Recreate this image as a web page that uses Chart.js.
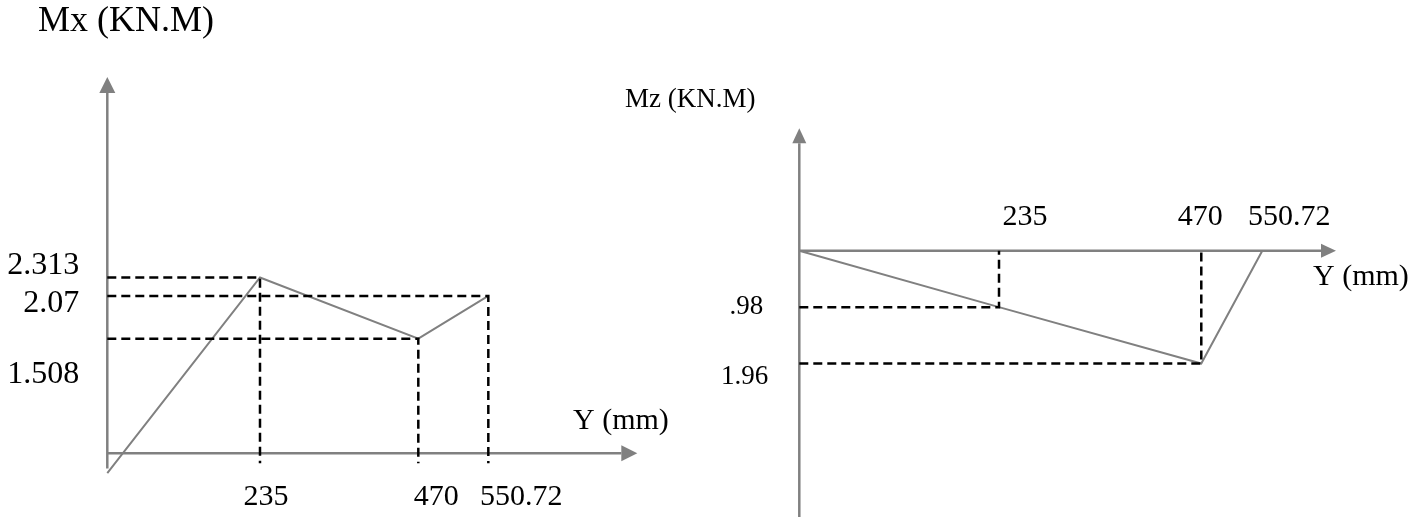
<!DOCTYPE html>
<html>
<head>
<meta charset="utf-8">
<script src="https://cdn.jsdelivr.net/npm/chart.js@4.4.1/dist/chart.umd.min.js"></script>
<style>
  html, body { margin: 0; padding: 0; background: #fff; overflow: hidden; }
  #wrap { position: relative; width: 1425px; height: 517px; }
  #wrap canvas { position: absolute; left: 0; top: 0; }
</style>
</head>
<body>
<div id="wrap">
  <canvas id="mxChart" width="1425" height="517"></canvas>
  <canvas id="mzChart" width="1425" height="517"></canvas>
</div>
<script>
// Positions along the member (mm)
const yPositions = [0, 235, 470, 550.72];
// Bending moment Mx (kN.m) at those positions
const mxValues = [-0.26, 2.313, 1.508, 2.07];
// Bending moment Mz (kN.m) at those positions
const mzValues = [0, -0.98, -1.96, 0];

// Labels written along the axes
const yTickLabels = ['235', '470', '550.72'];
const mxTickLabels = ['2.313', '2.07', '1.508'];
const mzTickLabels = ['.98', '1.96'];
const mxTitle = 'Mx (KN.M)';
const mzTitle = 'Mz (KN.M)';
const positionTitle = 'Y (mm)';

const FONT = "'Liberation Serif', 'Times New Roman', serif";
const AXIS_GREY = '#808080';

// The sketch is not drawn to scale along Y: a piecewise linear scale
// places each station where the drawing puts it.
class SketchScale extends Chart.LinearScale {
  static id = 'sketch';
  _toDecimal(v) {
    const s = this.options.stops, f = this.options.fractions;
    if (v <= s[0]) return f[0] + (v - s[0]) * (f[1] - f[0]) / (s[1] - s[0]);
    for (let i = 1; i < s.length; i++) {
      if (v <= s[i]) return f[i - 1] + (v - s[i - 1]) * (f[i] - f[i - 1]) / (s[i] - s[i - 1]);
    }
    const n = s.length - 1;
    return f[n] + (v - s[n]) * (f[n] - f[n - 1]) / (s[n] - s[n - 1]);
  }
  getPixelForValue(v) {
    if (v === null || v === undefined || isNaN(v)) return NaN;
    return this.getPixelForDecimal(this._toDecimal(v));
  }
  getValueForPixel(p) {
    const d = this.getDecimalForPixel(p);
    const s = this.options.stops, f = this.options.fractions;
    for (let i = 1; i < s.length; i++) {
      if (d <= f[i]) return s[i - 1] + (d - f[i - 1]) * (s[i] - s[i - 1]) / (f[i] - f[i - 1]);
    }
    return s[s.length - 1];
  }
}
Chart.register(SketchScale);

// Grey axes with filled arrow heads, crossing at the origin
const sketchAxes = {
  id: 'sketchAxes',
  beforeDatasetsDraw(chart, args, opts) {
    const { ctx, chartArea, scales: { x, y } } = chart;
    const ox = x.getPixelForValue(0);
    const oy = y.getPixelForValue(0);
    const foot = y.getPixelForValue(opts.yFoot);
    ctx.save();
    ctx.strokeStyle = AXIS_GREY;
    ctx.fillStyle = AXIS_GREY;
    ctx.lineWidth = 2.5;
    // horizontal axis
    ctx.beginPath();
    ctx.moveTo(ox, oy);
    ctx.lineTo(chartArea.right - opts.head, oy);
    ctx.stroke();
    ctx.beginPath();
    ctx.moveTo(chartArea.right, oy);
    ctx.lineTo(chartArea.right - opts.head, oy - opts.half);
    ctx.lineTo(chartArea.right - opts.head, oy + opts.half);
    ctx.closePath();
    ctx.fill();
    // vertical axis
    ctx.beginPath();
    ctx.moveTo(ox, foot);
    ctx.lineTo(ox, chartArea.top + opts.head);
    ctx.stroke();
    ctx.beginPath();
    ctx.moveTo(ox, chartArea.top);
    ctx.lineTo(ox - opts.half, chartArea.top + opts.head);
    ctx.lineTo(ox + opts.half, chartArea.top + opts.head);
    ctx.closePath();
    ctx.fill();
    ctx.restore();
  }
};

// Station values, moment values and axis titles
const sketchText = {
  id: 'sketchText',
  afterDatasetsDraw(chart, args, opts) {
    const { ctx, scales: { x, y } } = chart;
    const ox = x.getPixelForValue(0);
    const oy = y.getPixelForValue(0);
    ctx.save();
    ctx.fillStyle = '#000';
    ctx.textBaseline = 'middle';
    ctx.textAlign = 'center';
    ctx.font = opts.xSize + 'px ' + FONT;
    opts.xLabels.forEach((t, i) => {
      ctx.fillText(t, x.getPixelForValue(opts.xValues[i]) + opts.xDx[i], oy + opts.xRow);
    });
    ctx.textAlign = 'right';
    ctx.font = opts.ySize + 'px ' + FONT;
    opts.yLabels.forEach((t, i) => {
      ctx.fillText(t, ox - opts.yGap[i], y.getPixelForValue(opts.yValues[i]) + opts.yDy[i]);
    });
    ctx.textAlign = 'left';
    ctx.font = opts.titleSize + 'px ' + FONT;
    ctx.fillText(opts.title, opts.titlePos[0], opts.titlePos[1]);
    ctx.font = opts.xSize + 'px ' + FONT;
    ctx.fillText(opts.axisTitle, opts.axisTitlePos[0], opts.axisTitlePos[1]);
    ctx.restore();
  }
};

const GUIDE = { borderColor: '#000', borderWidth: 2.5, borderDash: [9, 5], pointRadius: 0, fill: false, clip: false };
const CURVE = { borderColor: AXIS_GREY, borderWidth: 2, pointRadius: 0, fill: false, clip: false };

function pts(xs, ys) { return xs.map((v, i) => ({ x: v, y: ys[i] })); }

// Mx diagram: dashed leaders from each station to its moment value
const mxFoot = -0.13;
const mxGuides = [1, 2, 3].map(i => ({
  ...GUIDE,
  data: [
    { x: 0, y: mxValues[i] },
    { x: yPositions[i], y: mxValues[i] },
    { x: yPositions[i], y: mxFoot }
  ]
}));

new Chart(document.getElementById('mxChart'), {
  type: 'line',
  data: { datasets: [...mxGuides, { ...CURVE, data: pts(yPositions, mxValues) }] },
  options: {
    responsive: false,
    animation: false,
    events: [],
    layout: { padding: { left: 107.3, right: 1425 - 637.3, top: 77, bottom: 40.9 } },
    scales: {
      x: { type: 'sketch', display: false, min: 0, max: 650,
           stops: [0, 235, 470, 550.72, 650], fractions: [0, 0.2881, 0.5868, 0.7189, 1] },
      y: { type: 'linear', display: false, min: -0.3, max: 4.95 }
    },
    plugins: {
      legend: { display: false },
      tooltip: { enabled: false },
      sketchAxes: { yFoot: -0.2, head: 16, half: 8 },
      sketchText: {
        xSize: 30, ySize: 32, titleSize: 36,
        xLabels: yTickLabels, xValues: yPositions.slice(1), xDx: [6, 18, 33], xRow: 44,
        // labels listed top to bottom: 2.313 (235), 2.07 (550.72), 1.508 (470)
        yLabels: mxTickLabels, yValues: [mxValues[1], mxValues[3], mxValues[2]],
        yGap: [28, 28, 28], yDy: [-12, 8, 36],
        title: mxTitle, titlePos: [38, 22],
        axisTitle: positionTitle, axisTitlePos: [573, 421]
      }
    }
  },
  plugins: [sketchAxes, sketchText]
});

// Mz diagram: dashed leaders from the moment value up to the station
const mzGuides = [1, 2].map(i => ({
  ...GUIDE,
  data: [
    { x: 0, y: mzValues[i] },
    { x: yPositions[i], y: mzValues[i] },
    { x: yPositions[i], y: 0 }
  ]
}));

new Chart(document.getElementById('mzChart'), {
  type: 'line',
  data: { datasets: [...mzGuides, { ...CURVE, data: pts(yPositions, mzValues) }] },
  options: {
    responsive: false,
    animation: false,
    events: [],
    layout: { padding: { left: 799.3, right: 1425 - 1336, top: 128.3, bottom: 0 } },
    scales: {
      x: { type: 'sketch', display: false, min: 0, max: 640,
           stops: [0, 235, 470, 550.72, 640], fractions: [0, 0.3721, 0.7490, 0.8627, 1] },
      y: { type: 'linear', display: false, min: -4.63, max: 2.13 }
    },
    plugins: {
      legend: { display: false },
      tooltip: { enabled: false },
      sketchAxes: { yFoot: -4.63, head: 15, half: 7 },
      sketchText: {
        xSize: 30, ySize: 27, titleSize: 27,
        xLabels: yTickLabels, xValues: yPositions.slice(1), xDx: [26, -1, 27], xRow: -34,
        yLabels: mzTickLabels, yValues: [mzValues[1], mzValues[2]], yGap: [36, 31], yDy: [0, 13],
        title: mzTitle, titlePos: [625, 100],
        axisTitle: positionTitle, axisTitlePos: [1313, 277]
      }
    }
  },
  plugins: [sketchAxes, sketchText]
});
</script>
</body>
</html>
